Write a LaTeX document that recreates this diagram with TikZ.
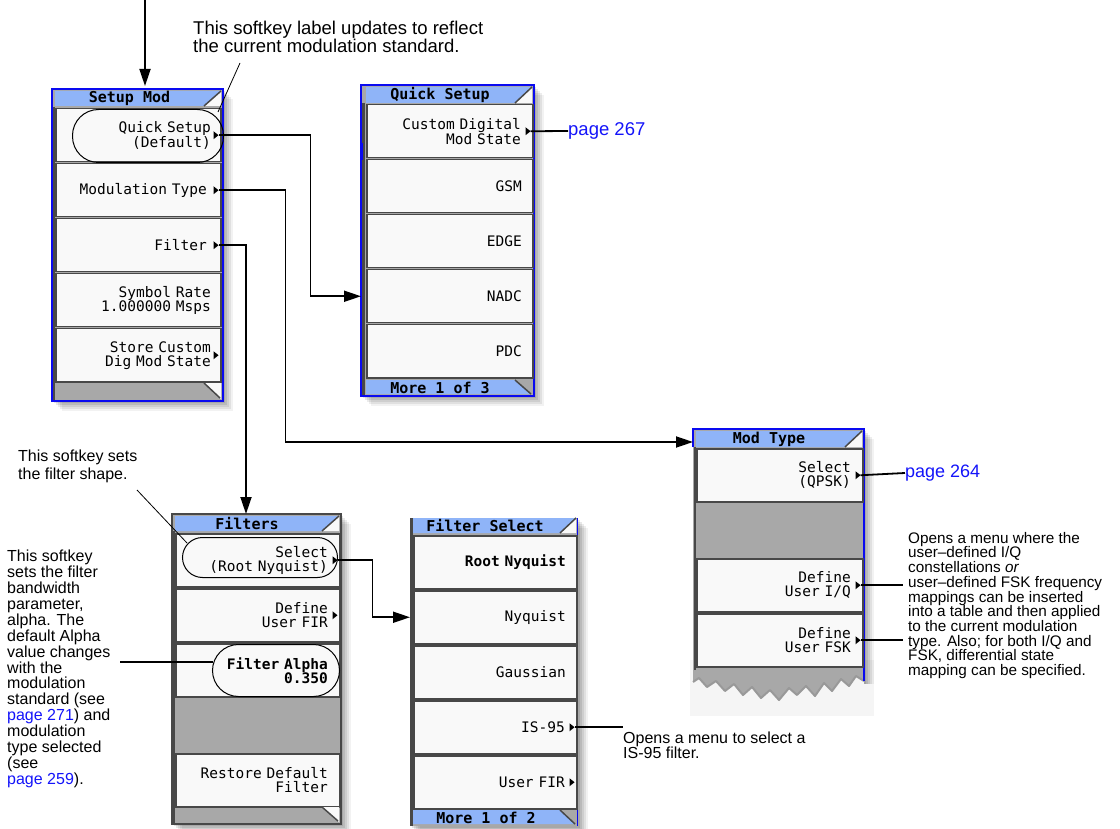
\documentclass[tikz,border=0pt]{standalone}
\usepackage{fontspec}
\setmainfont{Liberation Sans}
\newfontfamily\keyfont{DejaVu Sans Mono}[WordSpace={1,0,0}]
\usetikzlibrary{arrows.meta,calc}
\definecolor{titleblue}{RGB}{143,180,248}
\definecolor{frameblue}{RGB}{10,10,240}
\definecolor{keyfill}{RGB}{249,249,249}
\definecolor{keyline}{RGB}{72,72,72}
\definecolor{menugray}{RGB}{168,168,168}
\definecolor{linkblue}{RGB}{20,20,250}
\tikzset{
  conn/.style={line width=1.8pt, black},
  arr/.style={conn, -{Triangle[length=17pt,width=11pt]}},
  leader/.style={line width=0.8pt, black},
  softkey/.style={draw=keyline, line width=1.5pt, fill=keyfill, minimum height=53pt,
    anchor=north west, align=right, inner ysep=0pt,
    font=\keyfont\fontsize{14.5}{14}\selectfont},
  boldkey/.style={font=\keyfont\bfseries\fontsize{14.5}{14}\selectfont},
  oval/.style={draw=black, line width=1pt, anchor=north west, inner sep=0pt, fill=none},
  note/.style={anchor=north west, inner sep=0pt, align=left},
  ttl/.style={font=\keyfont\bfseries\fontsize{15}{15}\selectfont, inner sep=0pt},
  frame/.style={anchor=north west, inner sep=0pt, outer sep=0pt},
}
\newcommand{\mshadow}[4]{\foreach \o/\op in {2/0.10,4/0.09,6/0.08,8/0.07,10/0.05}{\fill[black,opacity=\op] ({#1+\o},{#2+\o}) rectangle ({#3+\o},{#4+\o});}}
\newcommand{\arrowmark}[1]{\fill[black] (#1) -- ++(-5,-4) -- ++(0,8) -- cycle;}
\begin{document}
\begin{tikzpicture}[x=1pt,y=-1pt]
\useasboundingbox (0,0) rectangle (1120,829);
\fill[white] (0,0) rectangle (1120,829);

%================ Setup Mod
\mshadow{52}{89}{223}{401}
\node[frame, fill=menugray, draw=frameblue, line width=2pt, minimum width=171pt, minimum height=312pt] (setupmod) at (52,89) {};
\draw[keyline, line width=2.5pt] (54,107) -- (54,400);
\fill[titleblue] (55,91) -- (221,91) -- (204,106) -- (55,106) -- cycle;
\fill[keyfill] (221,91) -- (221,106) -- (204,106) -- cycle;
\draw[keyline, line width=1.5pt] (204,106) -- (221,91);
\node[ttl] (smtitle) at (129.5,98.5) {Setup Mod};
\node[softkey, minimum width=165pt, text width=145pt, inner xsep=10pt] (sm1) at (55,108) {Quick Setup\\(Default)};
\node[softkey, minimum width=165pt, text width=137pt, inner xsep=14pt] (sm2) at (55,163) {Modulation Type};
\node[softkey, minimum width=165pt, text width=137pt, inner xsep=14pt] (sm3) at (55,218) {Filter};
\node[softkey, minimum width=165pt, text width=145pt, inner xsep=10pt] (sm4) at (55,273) {Symbol Rate\\1.000000 Msps};
\node[softkey, minimum width=165pt, text width=145pt, inner xsep=10pt] (sm5) at (55,328) {Store Custom\\Dig Mod State};
\fill[keyfill] (204,383) -- (221,383) -- (221,399) -- cycle;
\draw[keyline, line width=1.5pt] (204,383) -- (220,398);
\node[oval, minimum width=151pt, minimum height=53pt, rounded corners=26pt] (smoval) at (72,109) {};
\coordinate (smQt) at ($(sm1.east)+(-3,0)$);
\coordinate (smMt) at ($(sm2.east)+(-3,0)$);
\coordinate (smFt) at ($(sm3.east)+(-3,0)$);
\coordinate (smSt) at ($(sm5.east)+(-3,0)$);
\arrowmark{smQt}\arrowmark{smMt}\arrowmark{smFt}\arrowmark{smSt}

%================ Quick Setup
\mshadow{361}{85}{534}{396}
\node[frame, fill=menugray, draw=frameblue, line width=2pt, minimum width=173pt, minimum height=311pt] (quicksetup) at (361,85) {};
\draw[keyline, line width=2.5pt] (363.5,103) -- (363.5,395);
\draw[frameblue, line width=2pt] (362,143) -- (362,160);
\fill[titleblue] (366,87) -- (532,87) -- (515,103) -- (366,103) -- cycle;
\fill[keyfill] (532,87) -- (532,103) -- (515,103) -- cycle;
\draw[keyline, line width=1.5pt] (515,103) -- (532,87);
\node[ttl] (qstitle) at (440,95) {Quick Setup};
\node[softkey, minimum width=166pt, text width=142pt, inner xsep=12pt] (qs1) at (366,104) {Custom Digital\\Mod State};
\node[softkey, minimum width=166pt, text width=144pt, inner xsep=11pt] (qs2) at (366,159) {GSM};
\node[softkey, minimum width=166pt, text width=144pt, inner xsep=11pt] (qs3) at (366,214) {EDGE};
\node[softkey, minimum width=166pt, text width=144pt, inner xsep=11pt] (qs4) at (366,269) {NADC};
\node[softkey, minimum width=166pt, text width=144pt, inner xsep=11pt] (qs5) at (366,324) {PDC};
\fill[titleblue] (366,380) -- (515,380) -- (531,394) -- (366,394) -- cycle;
\draw[keyline, line width=1.5pt] (515,380) -- (531,394);
\node[ttl] (qsmore) at (440,387.5) {More 1 of 3};
\coordinate (qs1t) at ($(qs1.east)+(-3,0)$);
\arrowmark{qs1t}

%================ Mod Type
\fill[black!4] (690,660) rectangle (874,716);
\foreach \o/\op in {2/0.10,4/0.09,6/0.08,8/0.07,10/0.05}{\fill[black,opacity=\op] ({864},{429+\o}) rectangle ({864+\o},{684});}
\node[frame, minimum width=171pt, minimum height=252pt] (modtype) at (693,429) {};
\fill[menugray] (693,429) -- (864,429) -- (864,681) -- (856,676) -- (849,686) -- (841,679) -- (832,691) -- (824,683) -- (815,696) -- (806,686) -- (797,695) -- (789,688) -- (779,700) -- (770,690) -- (761,698) -- (752,687) -- (743,695) -- (734,684) -- (725,691) -- (716,681) -- (707,687) -- (699,678) -- (693,682) -- cycle;
\draw[black!40, line width=2pt, line join=round] (864,681) -- (856,676) -- (849,686) -- (841,679) -- (832,691) -- (824,683) -- (815,696) -- (806,686) -- (797,695) -- (789,688) -- (779,700) -- (770,690) -- (761,698) -- (752,687) -- (743,695) -- (734,684) -- (725,691) -- (716,681) -- (707,687) -- (699,678) -- (693,682);
\draw[frameblue, line width=2pt] (693,447) -- (693,429) -- (864,429) -- (864,681);
\draw[keyline, line width=2pt] (694.5,447) -- (694.5,670);
\fill[titleblue] (696,431) -- (862,431) -- (845,447) -- (696,447) -- cycle;
\fill[keyfill] (862,431) -- (862,447) -- (845,447) -- cycle;
\draw[keyline, line width=1.5pt] (845,447) -- (862,431);
\node[ttl] (mttitle) at (769,439) {Mod Type};
\node[softkey, minimum width=166pt, text width=142pt, inner xsep=12pt] (mt1) at (696,448) {Select\\(QPSK)};
\node[softkey, minimum width=166pt, text width=142pt, inner xsep=12pt] (mt3) at (696,558) {Define\\User I/Q};
\node[softkey, minimum width=166pt, text width=142pt, inner xsep=12pt] (mt4) at (696,613) {Define\\User FSK};
\coordinate (mt1t) at ($(mt1.east)+(-3,0)$);
\coordinate (mt3t) at ($(mt3.east)+(-3,0)$);
\coordinate (mt4t) at ($(mt4.east)+(-3,0)$);
\arrowmark{mt1t}\arrowmark{mt3t}\arrowmark{mt4t}

%================ Filters
\mshadow{172}{514}{341}{824}
\node[frame, fill=menugray, draw=keyline, line width=1.5pt, minimum width=169pt, minimum height=310pt] (filters) at (172,514) {};
\draw[keyline, line width=2.5pt] (173.5,531) -- (173.5,824);
\fill[titleblue] (175,516) -- (339,516) -- (322,531) -- (175,531) -- cycle;
\fill[keyfill] (339,516) -- (339,531) -- (322,531) -- cycle;
\draw[keyline, line width=1.5pt] (322,531) -- (339,516);
\node[ttl] (fititle) at (247,523.5) {Filters};
\node[softkey, minimum width=164pt, text width=140pt, inner xsep=12pt] (fi1) at (175,533) {Select\\(Root Nyquist)};
\node[softkey, minimum width=164pt, text width=140pt, inner xsep=12pt] (fi2) at (175,588) {Define\\User FIR};
\node[softkey, boldkey, minimum width=164pt, text width=140pt, inner xsep=12pt] (fi3) at (175,643) {Filter Alpha\\0.350};
\node[softkey, minimum width=164pt, text width=140pt, inner xsep=12pt] (fi5) at (175,753) {Restore Default\\Filter};
\fill[keyfill] (322,807) -- (339,807) -- (339,822) -- cycle;
\draw[keyline, line width=1.5pt] (322,807) -- (338,821);
\node[oval, minimum width=155pt, minimum height=40pt, rounded corners=20pt] (fioval) at (182,537) {};
\node[oval, minimum width=127pt, minimum height=52pt, rounded corners=26pt] (faoval) at (212,644) {};
\coordinate (fi1t) at ($(fi1.east)+(-3,0)$);
\coordinate (fi2t) at ($(fi2.east)+(-3,0)$);
\arrowmark{fi1t}\arrowmark{fi2t}

%================ Filter Select
\mshadow{410}{518}{578}{826}
\node[frame, fill=menugray, minimum width=168pt, minimum height=308pt] (fselect) at (410,518) {};
\draw[keyline, line width=2.5pt] (411.5,518) -- (411.5,826);
\draw[frameblue, line width=1.2pt] (577.5,518) -- (577.5,826);
\fill[titleblue] (413,518) -- (576,518) -- (560,533) -- (413,533) -- cycle;
\fill[keyfill] (576,518) -- (576,533) -- (560,533) -- cycle;
\draw[keyline, line width=1.5pt] (560,533) -- (576,518);
\node[ttl] (fstitle) at (485,525.5) {Filter Select};
\node[softkey, boldkey, minimum width=163pt, text width=141pt, inner xsep=11pt] (fs1) at (413,535) {Root Nyquist};
\node[softkey, minimum width=163pt, text width=141pt, inner xsep=11pt] (fs2) at (413,590) {Nyquist};
\node[softkey, minimum width=163pt, text width=141pt, inner xsep=11pt] (fs3) at (413,645) {Gaussian};
\node[softkey, minimum width=163pt, text width=139pt, inner xsep=12pt] (fs4) at (413,700) {IS-95};
\node[softkey, minimum width=163pt, text width=139pt, inner xsep=12pt] (fs5) at (413,755) {User FIR};
\fill[titleblue] (413,810) -- (560,810) -- (575,824) -- (413,824) -- cycle;
\draw[keyline, line width=1.5pt] (560,810) -- (575,824);
\node[ttl] (fsmore) at (486,817.5) {More 1 of 2};
\coordinate (fs4t) at ($(fs4.east)+(-3,0)$);
\coordinate (fs5t) at ($(fs5.east)+(-3,0)$);
\arrowmark{fs4t}\arrowmark{fs5t}

%================ Notes
\node[note, font=\fontsize{18.5}{18}\selectfont] (topnote) at (193,21) {This softkey label updates to reflect\\the current modulation standard.};
\node[note, font=\fontsize{16}{18}\selectfont] (shapenote) at (18,450) {This softkey sets\\the filter shape.};
\node[note, font=\fontsize{16}{15.9}\selectfont] (alphanote) at (7,550) {This softkey\\sets the filter\\bandwidth\\parameter,\\alpha. The\\default Alpha\\value changes\\with the\\modulation\\standard (see\\\textcolor{linkblue}{page 271}) and\\modulation\\type selected\\(see\\\textcolor{linkblue}{page 259}).};
\node[note, font=\fontsize{16}{15}\selectfont] (is95note) at (623,732) {Opens a menu to select a\\IS-95 filter.};
\node[note, font=\fontsize{15.3}{14.7}\selectfont] (usernote) at (908,532) {Opens a menu where the\\user--defined I/Q\\constellations \textit{or}\\user--defined FSK frequency\\mappings can be inserted\\into a table and then applied\\to the current modulation\\type. Also; for both I/Q and\\FSK, differential state\\mapping can be specified.};
\node[anchor=west, inner sep=0pt, text=linkblue, font=\fontsize{18.5}{18}\selectfont] (p267) at (568,131) {page 267};
\node[anchor=west, inner sep=0pt, text=linkblue, font=\fontsize{18}{18}\selectfont] (p264) at (905,473) {page 264};

%================ Connectors
\coordinate (topin) at (145,0);
\draw[arr, shorten >=3pt] (topin) -- (topin |- setupmod.north);
\draw[arr] (smQt) -- ++(92,0) |- (quicksetup.west |- qs4);
\draw[arr] (smMt) -- ++(67,0) |- ($(modtype.north west)+(0,13)$);
\draw[arr] (smFt) -| ($(filters.north west)+(74,0)$);
\draw[arr] (fi1t) -- ++(35,0) |- (fselect.west |- fs2);
\coordinate (alphaL) at (120,662);
\draw[conn] (alphaL) -- ($(faoval.west |- alphaL)+(1,0)$);
\coordinate (shapeL) at (137,490);
\draw[leader] (shapeL) -- ($(fioval.north west)+(5,6)$);
\coordinate (topL) at (240,63);
\draw[leader] (topL) -- ($(smoval.north east)+(-6,3)$);
\draw[conn] (qs1t) -- (p267.west);
\draw[conn] (mt1t) -- (p264.west);
\draw[conn] (mt3t) -- ($(usernote.west |- mt3t)+(-5,0)$);
\draw[conn] (mt4t) -- ($(usernote.west |- mt4t)+(-5,0)$);
\draw[conn] (fs4t) -- (is95note.north west |- fs4t);
\end{tikzpicture}
\end{document}
